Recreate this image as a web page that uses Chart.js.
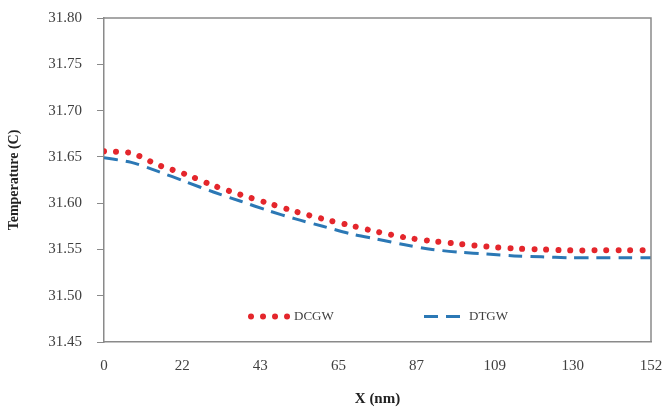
<!DOCTYPE html>
<html><head><meta charset="utf-8">
<script src="https://cdn.jsdelivr.net/npm/chart.js@4.4.1/dist/chart.umd.min.js"></script>
<style>html,body{margin:0;padding:0;background:#fff}#wrap{width:664px;height:408px}</style>
</head><body><div id="wrap"><canvas id="c" width="664" height="408"></canvas></div>
<script>
const xPositions = [0, 7.6, 15.2, 22.8, 30.4, 38, 45.6, 53.2, 60.8, 68.4, 76, 83.6, 91.2, 98.8, 106.4, 114, 121.6, 129.2, 136.8, 144.4, 152];
const dcgw = [31.656, 31.654, 31.641, 31.631, 31.619, 31.609, 31.600, 31.591, 31.583, 31.576, 31.569, 31.563, 31.559, 31.556, 31.553, 31.551, 31.550, 31.549, 31.549, 31.549, 31.549];
const dtgw = [31.649, 31.644, 31.634, 31.623, 31.612, 31.602, 31.592, 31.583, 31.575, 31.567, 31.561, 31.555, 31.550, 31.547, 31.545, 31.543, 31.542, 31.541, 31.541, 31.541, 31.541];
const xTickLabels = ['0', '22', '43', '65', '87', '109', '130', '152'];
const yTicks = [31.45, 31.50, 31.55, 31.60, 31.65, 31.70, 31.75, 31.80];
const seriesNames = ['DCGW', 'DTGW'];

const RED = '#e4262c', BLUE = '#2b78b5', AXIS = '#8a8a8a', TXT = '#404040';

const frame = {
  id: 'frame',
  afterDatasetsDraw(chart) {
    const {ctx, chartArea: a} = chart;
    ctx.save();
    ctx.strokeStyle = AXIS; ctx.lineWidth = 1.5;
    ctx.beginPath();
    ctx.moveTo(a.left, a.top); ctx.lineTo(a.right, a.top); ctx.lineTo(a.right, a.bottom);
    ctx.stroke();
    // legend
    const y = chart.scales.y.getPixelForValue(31.4775);
    ctx.font = '13px "Liberation Serif"'; ctx.fillStyle = TXT; ctx.textBaseline = 'middle';
    ctx.strokeStyle = RED; ctx.lineWidth = 6; ctx.lineCap = 'round'; ctx.setLineDash([0.01, 12]);
    ctx.beginPath(); ctx.moveTo(251, y); ctx.lineTo(289, y); ctx.stroke();
    ctx.fillText(seriesNames[0], 294, y);
    ctx.strokeStyle = BLUE; ctx.lineWidth = 3; ctx.lineCap = 'butt'; ctx.setLineDash([14, 8]);
    ctx.beginPath(); ctx.moveTo(424, y); ctx.lineTo(460, y); ctx.stroke();
    ctx.setLineDash([]);
    ctx.fillText(seriesNames[1], 469, y);
    ctx.restore();
  }
};

new Chart(document.getElementById('c'), {
  type: 'line',
  data: {
    datasets: [
      { label: seriesNames[0], data: xPositions.map((x, i) => ({x, y: dcgw[i]})),
        borderColor: RED, borderWidth: 6, borderDash: [0.01, 12], borderCapStyle: 'round',
        pointRadius: 0, tension: 0.3, fill: false },
      { label: seriesNames[1], data: xPositions.map((x, i) => ({x, y: dtgw[i]})),
        borderColor: BLUE, borderWidth: 3, borderDash: [14, 8], borderCapStyle: 'butt',
        pointRadius: 0, tension: 0.3, fill: false }
    ]
  },
  options: {
    responsive: false, animation: false,
    layout: { padding: { top: 18, right: 13, left: 0, bottom: 0 } },
    plugins: { legend: { display: false }, tooltip: { enabled: false } },
    scales: {
      x: {
        type: 'linear', min: 0, max: 152,
        afterBuildTicks(s) { s.ticks = xTickLabels.map((_, i) => ({ value: i * 152 / (xTickLabels.length - 1) })); },
        afterFit(s) { s.height = 66; s.paddingLeft = 0; s.paddingRight = 0; },
        ticks: { callback: (v, i) => xTickLabels[i], color: TXT, font: { family: 'Liberation Serif', size: 15 }, padding: 9, maxRotation: 0, autoSkip: false },
        grid: { display: false, drawOnChartArea: false, drawTicks: true, tickLength: 6, color: AXIS },
        border: { display: true, color: AXIS, width: 1.5 },
        title: { display: true, text: 'X (nm)', color: '#222', font: { family: 'Liberation Serif', size: 15, weight: 'bold' }, padding: { top: 0, bottom: 0 } }
      },
      y: {
        type: 'linear', min: 31.45, max: 31.80,
        afterBuildTicks(s) { s.ticks = yTicks.map(v => ({ value: v })); },
        afterFit(s) { s.width = 104; s.paddingTop = 0; s.paddingBottom = 0; },
        ticks: { callback: v => v.toFixed(2), color: TXT, font: { family: 'Liberation Serif', size: 15 }, padding: 15 },
        grid: { display: true, drawOnChartArea: false, drawTicks: true, tickLength: 7, color: AXIS },
        border: { display: true, color: AXIS, width: 1.5 },
        title: { display: true, text: 'Temperature (C)', color: '#222', font: { family: 'Liberation Serif', size: 14, weight: 'bold' }, padding: { top: 6, bottom: 0 } }
      }
    }
  },
  plugins: [frame]
});
</script></body></html>
